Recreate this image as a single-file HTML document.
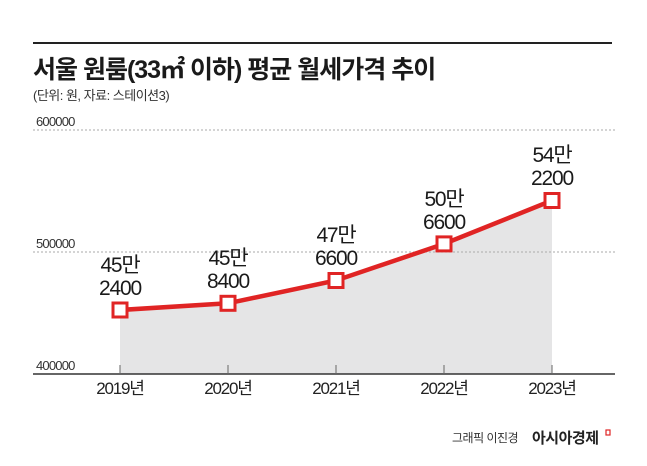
<!DOCTYPE html>
<html><head><meta charset="utf-8"><style>
body{margin:0;background:#fff;}
svg{display:block;font-family:"Liberation Sans","Noto Sans CJK KR",sans-serif;}
</style></head><body>
<svg width="647" height="466" viewBox="0 0 647 466">
<line x1="33" y1="43" x2="612" y2="43" stroke="#222" stroke-width="2"/>
<text x="33" y="78" font-size="25" font-weight="bold" fill="#1a1a1a" letter-spacing="-1">서울 원룸(33㎡ 이하) 평균 월세가격 추이</text>
<text x="33" y="100" font-size="13" fill="#333" letter-spacing="-0.5">(단위: 원, 자료: 스테이션3)</text>
<polygon points="120,310 228,303.3 336,280.5 444,243.9 552,200.5 552,374 120,374" fill="#e5e5e6"/>
<line x1="33" y1="130" x2="615" y2="130" stroke="#aaa" stroke-width="1" stroke-dasharray="2,2"/>
<line x1="33" y1="252" x2="615" y2="252" stroke="#aaa" stroke-width="1" stroke-dasharray="2,2"/>
<g font-size="13" fill="#333" letter-spacing="-0.8">
<text x="36" y="126">600000</text>
<text x="36" y="248">500000</text>
<text x="36" y="370">400000</text>
</g>
<line x1="33" y1="374" x2="615" y2="374" stroke="#333" stroke-width="1.5"/>
<g stroke="#666" stroke-width="1">
<line x1="120" y1="365" x2="120" y2="374"/><line x1="228" y1="365" x2="228" y2="374"/><line x1="336" y1="365" x2="336" y2="374"/><line x1="444" y1="365" x2="444" y2="374"/><line x1="552" y1="365" x2="552" y2="374"/>
</g>
<g font-size="17" fill="#222" text-anchor="middle" letter-spacing="-1.2">
<text x="120" y="394">2019년</text><text x="228" y="394">2020년</text><text x="336" y="394">2021년</text><text x="444" y="394">2022년</text><text x="552" y="394">2023년</text>
</g>
<polyline points="120,310 228,303.3 336,280.5 444,243.9 552,200.5" fill="none" stroke="#e02424" stroke-width="4.5"/>
<g fill="#fff" stroke="#e02424" stroke-width="3">
<rect x="113" y="303" width="14" height="14"/><rect x="221" y="296.3" width="14" height="14"/><rect x="329" y="273.5" width="14" height="14"/><rect x="437" y="236.9" width="14" height="14"/><rect x="545" y="193.5" width="14" height="14"/>
</g>
<g font-size="21" fill="#1a1a1a" text-anchor="middle" letter-spacing="-1.2">
<text x="120" y="272">45만</text><text x="120" y="295">2400</text>
<text x="228" y="265">45만</text><text x="228" y="288">8400</text>
<text x="336" y="242">47만</text><text x="336" y="265">6600</text>
<text x="444" y="206">50만</text><text x="444" y="229">6600</text>
<text x="552" y="162">54만</text><text x="552" y="185">2200</text>
</g>
<text x="452" y="442" font-size="12" fill="#333" letter-spacing="-0.5">그래픽 이진경</text>
<text x="532" y="443" font-size="15" font-weight="bold" fill="#222" letter-spacing="-0.5">아시아경제</text>
<rect x="606" y="430" width="4" height="5" fill="none" stroke="#e02424" stroke-width="1.2"/>
</svg>
</body></html>
